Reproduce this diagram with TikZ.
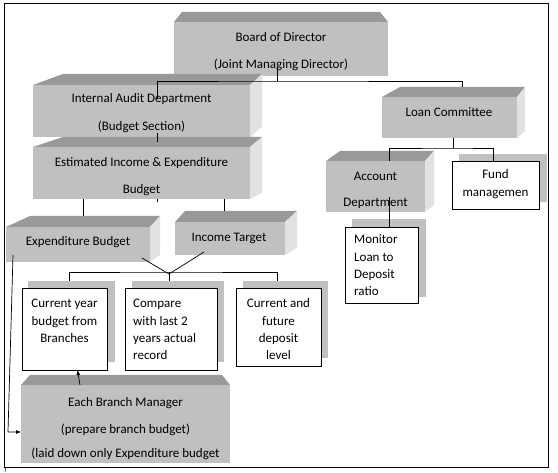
\documentclass[tikz,border=0pt]{standalone}
\usepackage{fontspec}
\setmainfont{Carlito}
\usetikzlibrary{arrows.meta}
\definecolor{frontgray}{HTML}{C0C0C0}
\definecolor{topgray}{HTML}{999999}
\definecolor{sidegray}{HTML}{E2E2E2}
\definecolor{shadowgray}{HTML}{C0C0C0}
\newcommand\boxthree[9]{%
  \fill[topgray] (#2,#3) -- (#6,#8) -- (#7,#8) -- (#4,#3) -- cycle;
  \ifdim #7pt>#4pt \fill[sidegray] (#4,#3) -- (#7,#8) -- (#7,#9) -- (#4,#5) -- cycle;\fi
  \node[front, minimum width={(#4-#2)*1pt}, minimum height={(#5-#3)*1pt}] (#1) at ({(#2+#4)/2},{(#3+#5)/2}) {};
}
\newcommand\whitebox[9]{%
  \fill[shadowgray] (#6,#7) rectangle (#8,#9);
  \node[wbox, minimum width={(#4-#2)*1pt}, minimum height={(#5-#3)*1pt}] (#1) at ({(#2+#4)/2},{(#3+#5)/2}) {};
}
\tikzset{
  front/.style={fill=frontgray, inner sep=0pt, outer sep=0pt},
  wbox/.style={draw=black, fill=white, line width=0.8pt, inner sep=0pt, outer sep=0pt},
  txt/.style={font=\fontsize{13}{15}\selectfont, anchor=base, inner sep=0pt},
  ltxt/.style={txt, anchor=base west},
  conn/.style={draw=black, line width=0.7pt},
  arr/.style={conn, -{Latex[length=5pt,width=4pt]}}
}
\begin{document}
\begin{tikzpicture}[x=1pt,y=-1pt]
\useasboundingbox (0,0) rectangle (558,473);
\fill[white] (0,0) rectangle (558,473);
\draw[line width=0.8pt] (4,3) rectangle (548,467);
\draw[line width=0.5pt] (5.5,468) -- (5,472);

% 3D boxes: name x1 y1 x2 y2 topleftx toprightx topy sidebottomy
\boxthree{board}{174}{22}{388}{76}{182}{380}{12}{76}
\boxthree{audit}{33}{85}{250}{137}{63}{262}{74}{127}
\boxthree{est}{33}{147}{250}{199}{63}{262}{137}{193}
\boxthree{exp}{6}{227}{150}{262}{30}{160}{216}{255}
\boxthree{inc}{175}{222}{285}{255}{185}{297}{211}{248}
\boxthree{loan}{382}{97}{517}{138}{400}{525}{87}{131}
\boxthree{acct}{326}{161}{425}{212}{340}{434}{151}{205}
\boxthree{bm}{21}{385}{230}{463}{30}{222}{375}{463}

% white boxes with shadow
\whitebox{fund}{452}{161}{539}{209}{459}{154}{547}{202}
\whitebox{monitor}{345}{227}{418}{303}{352}{219}{426}{297}
\whitebox{cy}{22}{288}{107}{370}{28}{281}{115}{362}
\whitebox{cmp}{125}{288}{217}{370}{132}{281}{224}{362}
\whitebox{cf}{236}{288}{321}{366}{243}{281}{328}{358}

% texts
\node[txt] (board-t1) at (281,42) {Board of Director};
\node[txt] (board-t2) at (281,69) {(Joint Managing Director)};
\node[txt] (audit-t1) at (141.5,103) {Internal Audit Department};
\node[txt] (audit-t2) at (141.5,131) {(Budget Section)};
\node[txt] (est-t1) at (141.5,167) {Estimated Income \& Expenditure};
\node[txt] (est-t2) at (141.5,194) {Budget};
\node[txt] (exp-t) at (78,246) {Expenditure Budget};
\node[txt] (inc-t) at (229,242) {Income Target};
\node[txt] (loan-t) at (449,117) {Loan Committee};
\node[txt] (acct-t1) at (375.5,181) {Account};
\node[txt] (acct-t2) at (375.5,207) {Department};
\node[txt] (fund-t1) at (495.5,179) {Fund};
\node[txt] (fund-t2) at (495.5,197) {managemen};
\node[ltxt] (mon-t1) at (354,244) {Monitor};
\node[ltxt] (mon-t2) at (354,262) {Loan to};
\node[ltxt] (mon-t3) at (354,279) {Deposit};
\node[ltxt] (mon-t4) at (354,296) {ratio};
\node[txt] (cy-t1) at (64.5,308) {Current year};
\node[txt] (cy-t2) at (64.5,325.5) {budget from};
\node[txt] (cy-t3) at (64.5,343) {Branches};
\node[ltxt] (cmp-t1) at (133,308) {Compare};
\node[ltxt] (cmp-t2) at (133,325.5) {with last 2};
\node[ltxt] (cmp-t3) at (133,343) {years actual};
\node[ltxt] (cmp-t4) at (133,360) {record};
\node[txt] (cf-t1) at (278.5,308) {Current and};
\node[txt] (cf-t2) at (278.5,325.5) {future};
\node[txt] (cf-t3) at (278.5,343) {deposit};
\node[txt] (cf-t4) at (278.5,360) {level};
\node[txt] (bm-t1) at (125.5,407) {Each Branch Manager};
\node[txt] (bm-t2) at (125.5,434) {(prepare branch budget)};
\node[txt] (bm-t3) at (125.5,458) {(laid down only Expenditure budget};

% connectors
\coordinate (jb) at (277,81);
\draw[conn] ([xshift=-4pt,yshift=8pt]board.south) -- (jb);
\draw[conn] ([xshift=15.5pt,yshift=-14pt]audit.north) |- (jb) -| ([xshift=12.5pt,yshift=10pt]loan.north);
\draw[conn] ([xshift=15.5pt,yshift=4pt]audit.south) -- ([xshift=15.5pt,yshift=5pt]est.north);
\draw[conn] ([xshift=15.5pt]est.south) -- ++(0,3);
\draw[conn] ([xshift=-58.5pt]est.south) -- ([xshift=5pt,yshift=11pt]exp.north);
\draw[conn] ([xshift=82.5pt]est.south) -- ([xshift=-6pt,yshift=11pt]inc.north);
\coordinate (v) at (169,274);
\coordinate (bus) at (169,272);
\draw[conn] ([xshift=64pt,yshift=4pt]exp.south) -- (v);
\draw[conn] ([xshift=-26pt,yshift=3pt]inc.south) -- (v);
\draw[conn] ([xshift=4.5pt,yshift=7pt]cy.north) |- (bus) -| ([xshift=-1.5pt,yshift=7pt]cf.north);
\draw[conn] (bus) -- ([xshift=-2pt,yshift=7pt]cmp.north);
\coordinate (jl) at (453,148);
\draw[conn] ([xshift=3.5pt]loan.south) -- (jl);
\draw[conn] ([xshift=13.5pt]acct.north) |- (jl) -| ([xshift=-2.5pt]fund.north);
\draw[conn] ([xshift=13.5pt,yshift=15pt]acct.south) -- ([xshift=7.5pt]monitor.north);
\draw[arr] ([xshift=-45.5pt]bm.north) -- ([xshift=13pt]cy.south);
\coordinate (c1) at (8,432);
\draw[arr] ([xshift=-65pt,yshift=7pt]exp.south) -- (c1) -- ([yshift=-8pt]bm.west);
\end{tikzpicture}
\end{document}
